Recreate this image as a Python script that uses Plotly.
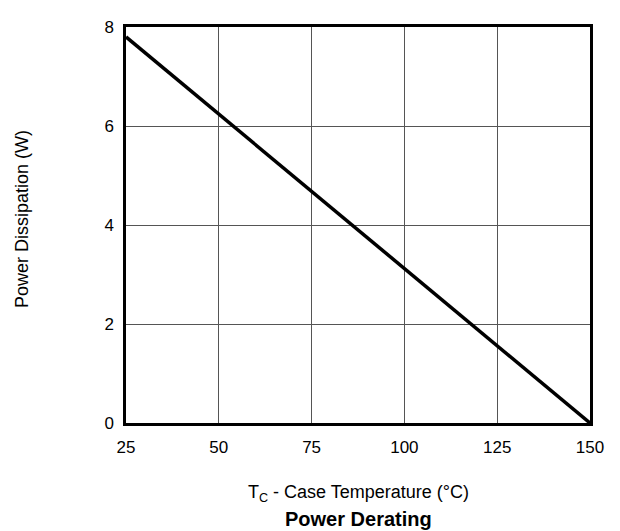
import plotly.graph_objects as go

temp_c = [25, 150]
power_w = [7.8, 0]
x_ticks = [25, 50, 75, 100, 125, 150]
y_ticks = [0, 2, 4, 6, 8]

FAM = "Liberation Sans, Arial, sans-serif"

fig = go.Figure()
fig.add_trace(go.Scatter(x=temp_c, y=power_w, mode="lines",
                         line=dict(color="black", width=3.5), showlegend=False))

fig.update_layout(
    width=612, height=523,
    margin=dict(l=118, r=30, t=10, b=108),
    paper_bgcolor="white", plot_bgcolor="white",
    font=dict(family=FAM, size=17, color="black"),
)
fig.update_xaxes(range=[25, 150], tickvals=x_ticks, showgrid=True, gridcolor="#555",
                 gridwidth=1.2, showline=True, linecolor="black", linewidth=2.5,
                 mirror=True, zeroline=False, ticks="", ticklabelstandoff=7)
fig.update_yaxes(range=[0, 8], tickvals=y_ticks, showgrid=True, gridcolor="#555",
                 gridwidth=1.2, showline=True, linecolor="black", linewidth=2.5,
                 mirror=True, zeroline=False, ticks="", ticklabelstandoff=6)

fig.add_annotation(text="T<sub>C</sub> - Case Temperature (°C)", xref="paper", yref="paper",
                   x=0.5, y=-0.178, showarrow=False, yanchor="middle",
                   font=dict(family=FAM, size=18))
fig.add_annotation(text="<b>Power Derating</b>", xref="paper", yref="paper",
                   x=0.5, y=-0.242, showarrow=False, yanchor="middle",
                   font=dict(family=FAM, size=20))
fig.add_annotation(text="Power Dissipation (W)", xref="paper", yref="paper",
                   x=-0.224, y=0.515, showarrow=False, textangle=-90,
                   xanchor="center", yanchor="middle",
                   font=dict(family=FAM, size=18))

fig.write_html("out.html")
